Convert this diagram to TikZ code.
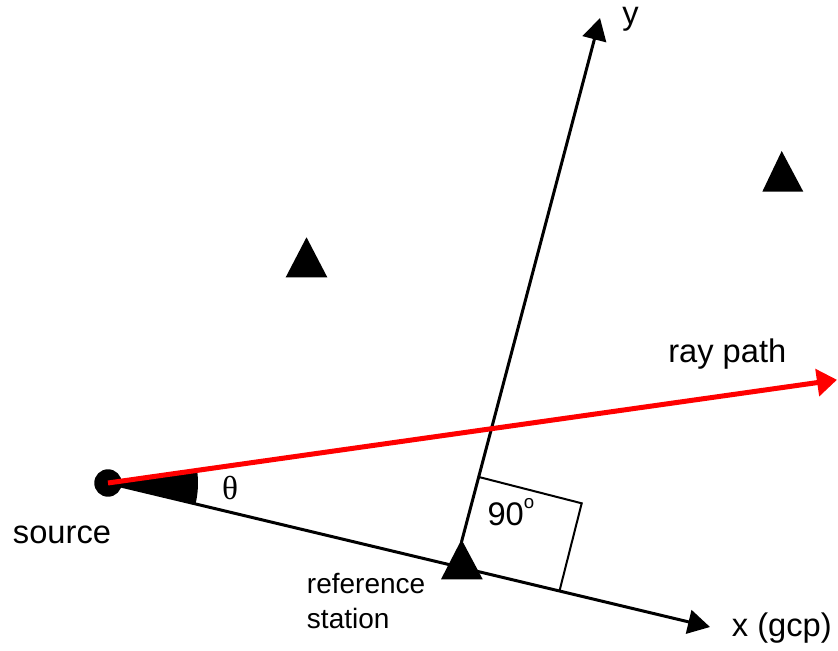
\documentclass[tikz,border=0pt]{standalone}
\usepackage{fontspec}
\setmainfont{Liberation Sans}
\newfontfamily\thetafont{Liberation Serif}
\usetikzlibrary{arrows.meta}
\begin{document}
\begin{tikzpicture}[x=0.75pt,y=0.75pt,
  lbl/.style={anchor=base west,inner sep=0pt,font=\fontsize{24.5}{29}\selectfont},
  smalllbl/.style={anchor=base west,inner sep=0pt,font=\fontsize{21}{26}\selectfont},
  axisline/.style={line width=2.25pt,-{Triangle[length=16.5pt,width=18pt]}},
  rayline/.style={line width=3.75pt,draw=red,-{Triangle[length=15pt,width=20pt]}},
  marker/.style={fill=black},
  rightbox/.style={line width=1.5pt},
  dot/.style={circle,fill=black,inner sep=0pt,minimum size=20.6pt}
]
\useasboundingbox (0,0) rectangle (838,650);

% other stations
\fill[marker] (285.7,372.7) -- (306.5,412.7) -- (327.3,372.7) -- cycle;
\fill[marker] (762.3,458.3) -- (781.7,499) -- (803.3,458.3) -- cycle;

% reference station
\fill[marker] (441,70.7) -- (461.5,110.5) -- (482.7,70.7) -- cycle;
\coordinate (stnTop) at (461.5,108);

% end points of axes
\coordinate (xtip) at (710,23);
\coordinate (ytip) at (600,632);
\coordinate (rtip) at (837,270.2);

% source and angle wedge
\coordinate (S) at (108,167);
\fill (S) -- ++(8.03:67.5pt) arc[start angle=8.03,end angle=-13.45,radius=67.5pt] -- cycle;
\node[dot] (src) at (S) {};

% axes
\draw[axisline] (src.center) -- (xtip);
\draw[axisline] (stnTop) -- (ytip);

% right angle box
\draw[rightbox] (477.7,173.3) -- (581.7,146.7) -- (559.3,58.3);

% ray path
\draw[rayline] (src.center) -- (rtip);

% labels
\node[lbl] (srclbl) at (12.7,107) {source};
\node[lbl] (raylbl) at (668,287) {ray path};
\node[lbl] (xlbl) at (731.7,14) {x (gcp)};
\node[lbl] (ylbl) at (622,625) {y};
\node[smalllbl] (ref1) at (306.7,57) {reference};
\node[smalllbl] (ref2) at (306.7,22) {station};
\node[lbl] (ninety) at (487.3,125) {90\raisebox{12.5pt}{\fontsize{14}{14}\selectfont o}};
\node[inner sep=0pt,font=\thetafont\fontsize{25}{30}\selectfont] (theta) at (230,162) {θ};
\end{tikzpicture}
\end{document}
